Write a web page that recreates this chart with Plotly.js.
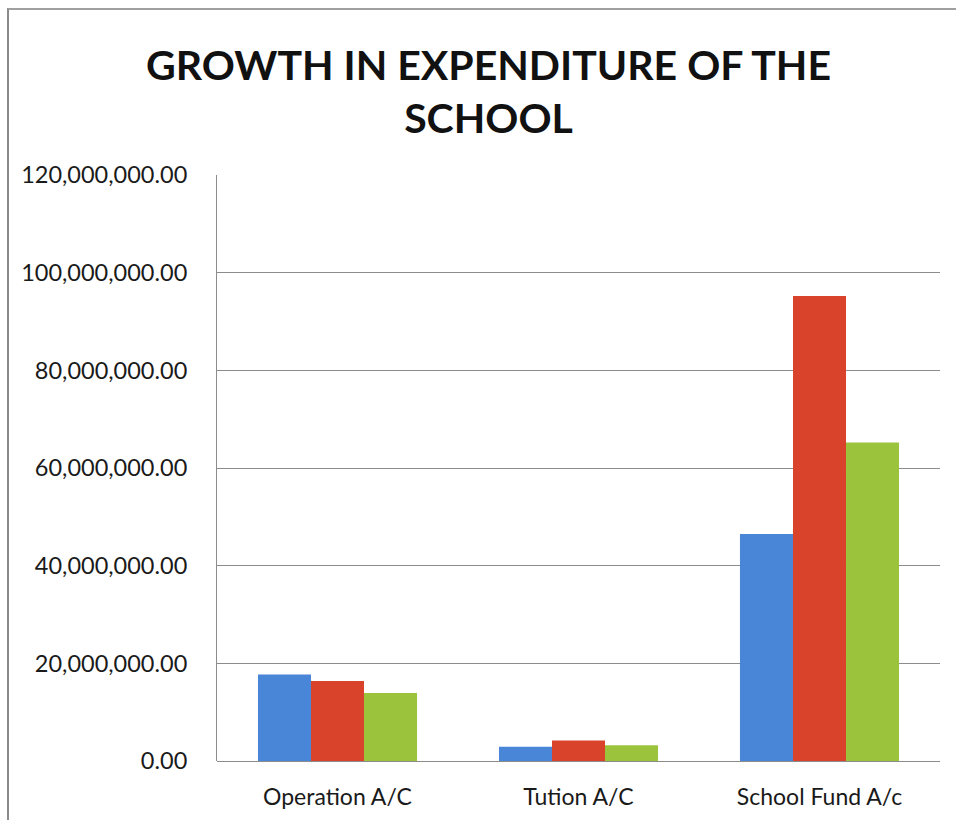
<!DOCTYPE html>
<html>
<head>
<meta charset="utf-8">
<script src="https://cdn.plot.ly/plotly-3.0.1.min.js"></script>
<style>
  html, body { margin: 0; padding: 0; background: #fff; }
  #wrap { position: relative; width: 956px; height: 820px; overflow: hidden; }
  #chart { position: absolute; left: 0; top: 0; width: 956px; height: 820px; }
  #frame { position: absolute; left: 7px; top: 8px; width: 960px; height: 830px;
           border-left: 2px solid #8a8a8a; border-top: 2px solid #a0a0a0; pointer-events: none; }
</style>
</head>
<body>
<div id="wrap">
  <div id="chart"></div>
  <div id="frame"></div>
</div>
<script>
const categories = ["Operation A/C", "Tution A/C", "School Fund A/c"];
const series1 = [17700000, 2900000, 46500000];
const series2 = [16400000, 4200000, 95200000];
const series3 = [13900000, 3200000, 65200000];
const tickValues = [0, 20000000, 40000000, 60000000, 80000000, 100000000, 120000000];
const tickLabels = ["0.00", "20,000,000.00", "40,000,000.00", "60,000,000.00", "80,000,000.00", "100,000,000.00", "120,000,000.00"];

const colors = ["#4a86d8", "#d9432b", "#9bc43c"];
const allSeries = [series1, series2, series3];
const names = ["Series 1", "Series 2", "Series 3"];

const traces = allSeries.map((vals, i) => ({
  type: "bar",
  x: categories,
  y: vals,
  name: names[i],
  marker: { color: colors[i], line: { width: 0 } },
  hoverinfo: "x+y"
}));

const layout = {
  width: 956,
  height: 820,
  margin: { l: 217, r: 16, t: 175, b: 59 },
  paper_bgcolor: "rgba(0,0,0,0)",
  plot_bgcolor: "#ffffff",
  showlegend: false,
  barmode: "group",
  bargap: 0.34,
  bargroupgap: 0,
  font: { family: "Lato, 'Open Sans', sans-serif", color: "#1a1a1a" },
  title: {
    text: "GROWTH IN EXPENDITURE OF THE<br>SCHOOL",
    font: { family: "Lato, 'Open Sans', sans-serif", size: 41, color: "#111", weight: "bold" },
    x: 0.511, xanchor: "center", xref: "container",
    y: 1 - 80 / 820, yanchor: "top", yref: "container"
  },
  xaxis: {
    type: "category",
    showgrid: false,
    showline: false,
    zeroline: false,
    ticks: "",
    tickfont: { size: 23, color: "#1a1a1a" },
    ticklabelstandoff: 20
  },
  yaxis: {
    range: [0, 120000000],
    tickvals: tickValues,
    ticktext: tickLabels,
    showgrid: true,
    gridcolor: "#8c8c8c",
    gridwidth: 1,
    showline: true,
    linecolor: "#8c8c8c",
    linewidth: 1,
    zeroline: true,
    zerolinecolor: "#8c8c8c",
    zerolinewidth: 1,
    ticks: "",
    tickfont: { size: 23.5, color: "#1a1a1a" },
    ticklabelstandoff: 24
  }
};

Plotly.newPlot("chart", traces, layout, { displayModeBar: false, staticPlot: true });
</script>
</body>
</html>
